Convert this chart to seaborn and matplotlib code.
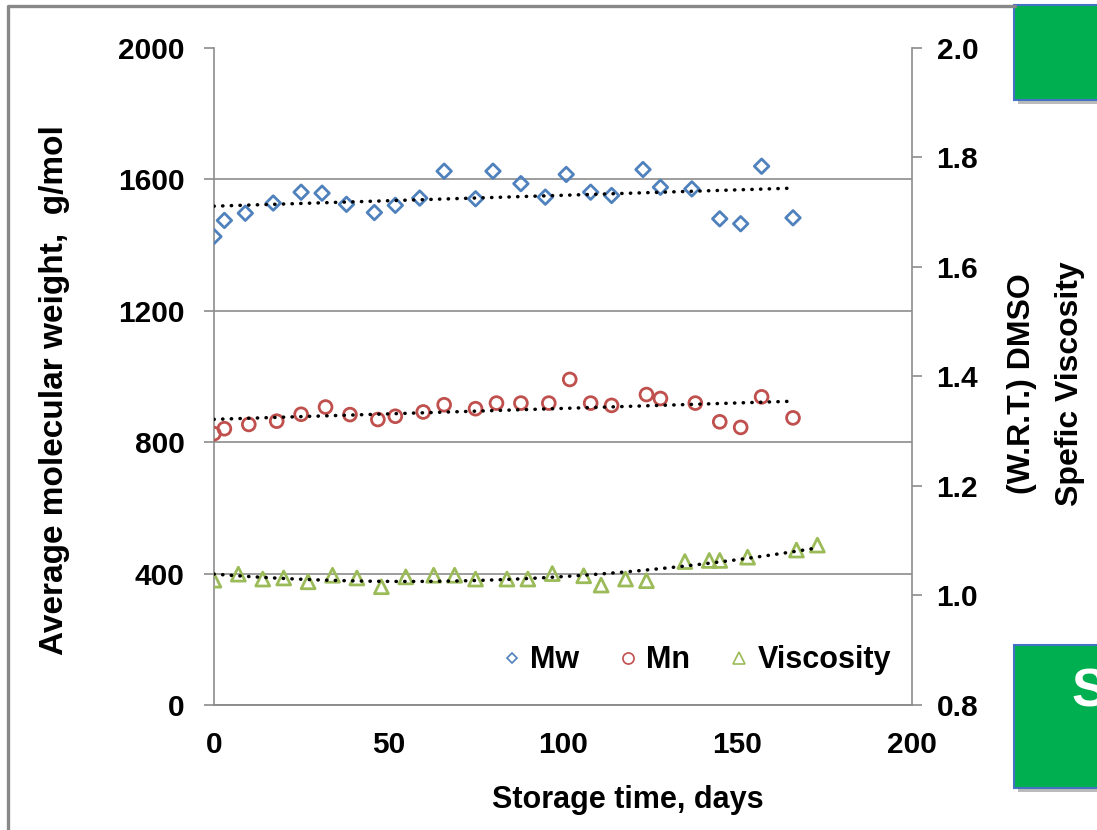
import numpy as np
import pandas as pd
import matplotlib
matplotlib.use("Agg")
import matplotlib.pyplot as plt
from matplotlib.lines import Line2D
from matplotlib.patches import Rectangle
import seaborn as sns

# values
mw_days = [0, 3, 9, 17, 25, 31, 38, 46, 52, 59, 66, 75, 80, 88, 95, 101, 108, 114, 123, 128, 137, 145, 151, 157, 166]
mw = [1426, 1475, 1497, 1528, 1561, 1558, 1524, 1499, 1521, 1543, 1625, 1541, 1625, 1587, 1546, 1615,
      1561, 1551, 1630, 1576, 1571, 1480, 1465, 1640, 1483]
mn_days = [0, 3, 10, 18, 25, 32, 39, 47, 52, 60, 66, 75, 81, 88, 96, 102, 108, 114, 124, 128, 138, 145, 151, 157, 166]
mn = [826, 841, 854, 864, 885, 907, 884, 869, 879, 892, 914, 902, 919, 919, 919, 991,
      919, 912, 945, 933, 919, 862, 845, 938, 874]
visc_days = [0, 7, 14, 20, 27, 34, 41, 48, 55, 63, 69, 75, 84, 90, 97, 106, 111, 118, 124,
             135, 142, 145, 153, 167, 173]
visc = [1.028, 1.039, 1.030, 1.032, 1.025, 1.037, 1.032, 1.016, 1.034, 1.037, 1.037, 1.030, 1.030,
        1.030, 1.040, 1.036, 1.019, 1.030, 1.027, 1.062, 1.064, 1.064, 1.070, 1.083, 1.092]

x_ticks = [0, 50, 100, 150, 200]
left_ticks = [0, 400, 800, 1200, 1600, 2000]
right_ticks = [0.8, 1.0, 1.2, 1.4, 1.6, 1.8, 2.0]

blue = "#4F81BD"
red = "#C0504D"
green = "#9BBB59"
axis_grey = "#8C8C8C"

sns.set_style("white")
plt.rcParams["font.family"] = ["Liberation Sans", "DejaVu Sans"]
plt.rcParams["font.weight"] = "bold"
plt.rcParams["text.color"] = "black"

fig = plt.figure(figsize=(10.97, 8.30), dpi=100)
ax = fig.add_axes([0.195, 0.1506, 0.636, 0.7916])
ax2 = ax.twinx()

df_mw = pd.DataFrame({"day": mw_days, "val": mw})
df_mn = pd.DataFrame({"day": mn_days, "val": mn})
df_v = pd.DataFrame({"day": visc_days, "val": visc})

sns.scatterplot(data=df_mw, x="day", y="val", ax=ax, marker="D", s=55,
                facecolors="none", edgecolor=blue, linewidth=2, zorder=3)
sns.scatterplot(data=df_mn, x="day", y="val", ax=ax, marker="o", s=85,
                facecolors="none", edgecolor=red, linewidth=2, zorder=3)
sns.scatterplot(data=df_v, x="day", y="val", ax=ax2, marker="^", s=100,
                facecolors="none", edgecolor=green, linewidth=2, zorder=3)

# trend lines (linear for Mw / Mn, polynomial for viscosity)
dot = dict(color="black", lw=2.5, linestyle=(0, (0.1, 2.4)), dash_capstyle="round", zorder=4)
for d, v, a, deg in [(mw_days, mw, ax, 1), (mn_days, mn, ax, 1), (visc_days, visc, ax2, 2)]:
    c = np.polyfit(d, v, deg)
    xs = np.linspace(min(d), max(d), 100)
    a.plot(xs, np.polyval(c, xs), **dot)

ax.set_xlim(0, 200)
ax.set_ylim(0, 2000)
ax2.set_ylim(0.8, 2.0)
ax.set_xticks(x_ticks)
ax.set_yticks(left_ticks)
ax2.set_yticks(right_ticks)
ax2.set_yticklabels([f"{t:.1f}" for t in right_ticks])

ax.yaxis.grid(True, color=axis_grey, lw=1.2)
ax.get_ygridlines()[-1].set_visible(False)
ax2.grid(False)

for a in (ax, ax2):
    for s in a.spines.values():
        s.set_color(axis_grey)
        s.set_linewidth(1.2)
    a.spines["top"].set_visible(False)
    a.tick_params(length=7, width=1.2, color=axis_grey, labelcolor="black", labelsize=21.5)
ax.tick_params(axis="y", pad=14)
ax.tick_params(axis="x", pad=12)
ax2.tick_params(axis="y", pad=11)
ax2.spines["left"].set_visible(False)
ax.spines["right"].set_visible(False)
for lab in ax.get_xticklabels() + ax.get_yticklabels() + ax2.get_yticklabels():
    lab.set_fontweight("bold")

ax.set_xlabel("")
ax.set_ylabel("")
ax2.set_ylabel("")
fig.text(628 / 1097, 1 - 800 / 830, "Storage time, days", ha="center", va="center",
         fontsize=22, fontweight="bold")
fig.text(55 / 1097, 1 - 390 / 830, "Average molecular weight,  g/mol", rotation=90,
         ha="center", va="center", fontsize=24, fontweight="bold")
fig.text(1046 / 1097, 1 - 384 / 830, "(W.R.T.) DMSO\nSpefic Viscosity", rotation=90,
         ha="center", va="center", multialignment="center", fontsize=23, fontweight="bold",
         linespacing=1.75)

handles = [
    Line2D([], [], ls="none", marker="D", ms=5, mfc="none", mec=blue, mew=1.2),
    Line2D([], [], ls="none", marker="o", ms=8, mfc="none", mec=red, mew=1.2),
    Line2D([], [], ls="none", marker="^", ms=8, mfc="none", mec=green, mew=1.2),
]
ax.legend(handles, ["Mw", "Mn", "Viscosity"], ncol=3, frameon=False, loc="center",
          bbox_to_anchor=(0.692, 0.068), handlelength=0.6, handletextpad=0.3,
          columnspacing=1.3, prop={"weight": "bold", "size": 22})

# slide frame and green boxes at the right
fig.add_artist(Line2D([8 / 1097, 8 / 1097, 1015 / 1097], [0, 1 - 6 / 830, 1 - 6 / 830],
                      transform=fig.transFigure, color="#888888", lw=2.4))
for y0, y1 in [(5, 100), (645, 788)]:
    fig.add_artist(Rectangle((1018 / 1097, 1 - (y1 + 4) / 830), 0.2, (y1 - y0) / 830,
                             transform=fig.transFigure, facecolor="#BBBBBB", edgecolor="none"))
    fig.add_artist(Rectangle((1014 / 1097, 1 - y1 / 830), 0.2, (y1 - y0) / 830,
                             transform=fig.transFigure, facecolor="#00B050", edgecolor="#4472C4", lw=1.5))
fig.text(1071 / 1097, 1 - 692 / 830, "S", color="white", fontsize=38, fontweight="bold",
         ha="left", va="center")

fig.savefig("out.png", dpi=100)
